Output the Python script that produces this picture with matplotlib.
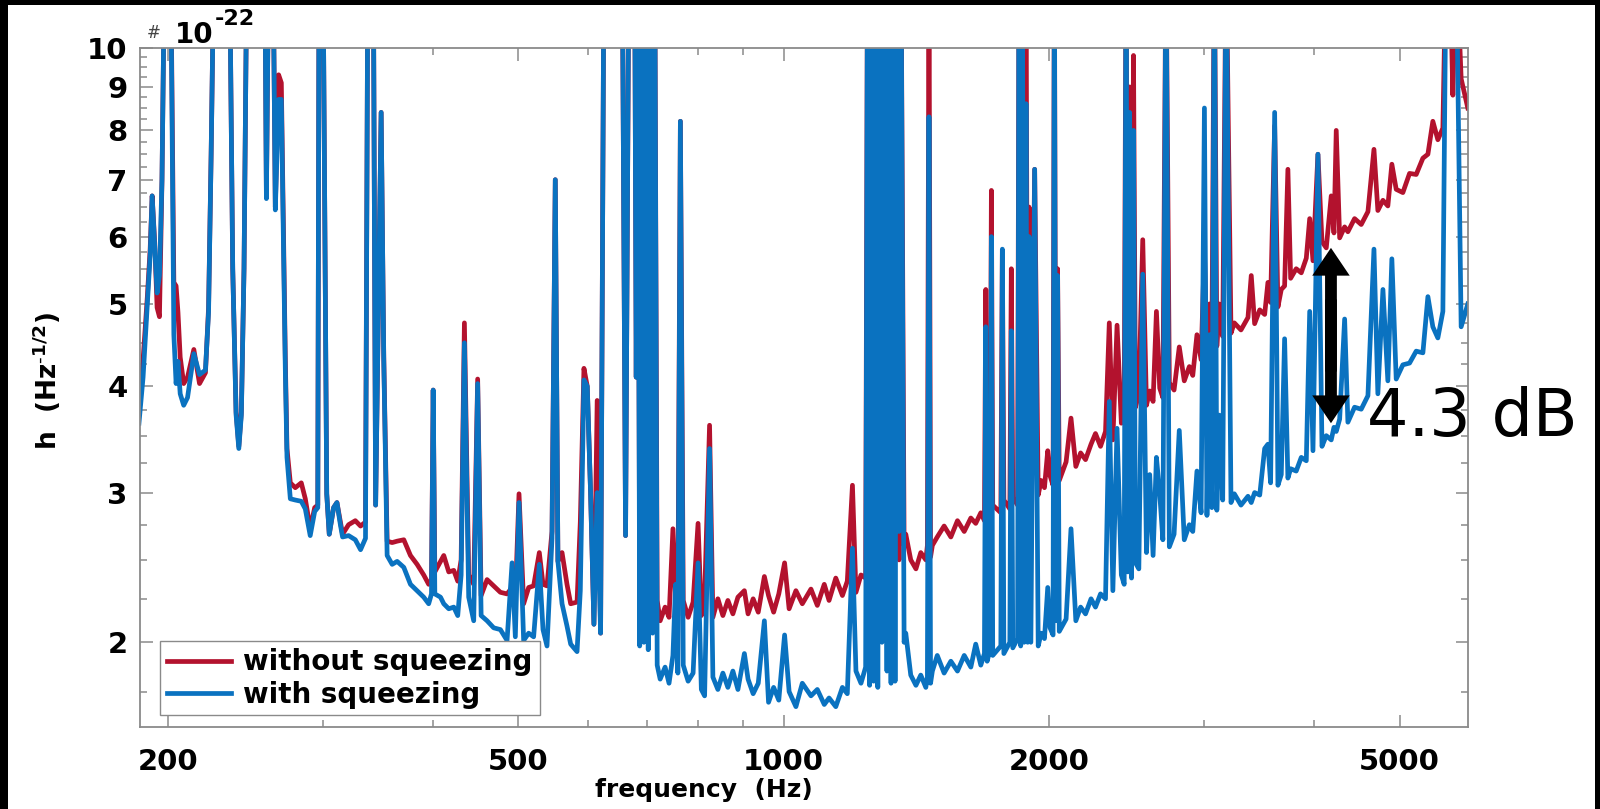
import matplotlib

matplotlib.use("Agg")
import matplotlib.pyplot as plt
from matplotlib.patches import FancyArrowPatch, Rectangle
from matplotlib.ticker import NullFormatter

# strain noise spectra, values in units of 1e-22 / sqrt(Hz)
FREQ_HZ = [
    185.5, 187.5, 189.6, 191.0, 192.0, 193.3, 194.5, 195.7, 197.0, 198.4,
    201.5, 203.2, 204.4, 205.4, 206.6, 208.5, 210.6, 214.1, 217.3, 220.7,
    222.5, 224.0, 225.7, 235.0, 237.0, 239.1, 240.8, 242.4, 244.1, 246.0,
    257.7, 258.8, 260.4, 263.3, 264.9, 267.2, 269.1, 271.9, 273.1, 275.5,
    279.1, 283.5, 286.5, 290.2, 293.6, 296.0, 297.0, 300.0, 303.0, 305.0,
    308.5, 311.2, 314.0, 315.8, 320.8, 326.5, 331.0, 335.3, 337.4, 342.2,
    344.3, 349.3, 351.7, 354.8, 359.5, 364.2, 370.6, 377.1, 383.7, 390.4,
    395.5, 398.4, 400.2, 401.9, 407.9, 411.4, 416.8, 422.3, 426.7, 430.5,
    434.2, 439.1, 444.9, 449.5, 453.6, 460.7, 468.7, 477.0, 485.4, 491.8,
    496.0, 500.8, 506.9, 513.6, 520.3, 528.1, 533.2, 538.8, 545.9, 550.6,
    554.4, 560.4, 567.7, 573.2, 582.8, 587.8, 593.4, 598.6, 603.8, 609.1,
    614.3, 619.8, 625.3, 633.5, 655.9, 661.6, 667.4, 677.5, 680.3, 683.0,
    686.5, 690.0, 694.0, 698.0, 702.0, 706.0, 710.0, 714.0, 718.6, 724.2,
    733.6, 741.2, 748.8, 754.0, 758.5, 763.5, 769.2, 779.1, 789.3, 799.6,
    806.5, 813.4, 824.0, 831.2, 842.1, 853.2, 864.4, 875.8, 887.4, 902.5,
    911.2, 923.4, 935.8, 950.9, 961.3, 974.2, 987.4, 1002.5, 1014.4, 1032.6,
    1050, 1074, 1092, 1112, 1126, 1146, 1166, 1181, 1197, 1208,
    1224, 1239, 1245, 1252, 1258, 1265, 1272, 1279, 1286, 1293,
    1300, 1310, 1317, 1324, 1331, 1338, 1345, 1352, 1359, 1370,
    1376, 1394, 1413, 1431, 1450, 1456, 1462, 1468, 1475, 1494,
    1521, 1548, 1575, 1603, 1631, 1652, 1674, 1690, 1696, 1702,
    1715, 1721, 1727, 1764, 1771, 1778, 1806, 1813, 1820, 1843,
    1850, 1858, 1866, 1875, 1884, 1892, 1899, 1908, 1927, 1945,
    1960, 1977, 1994, 2006, 2022, 2029, 2036, 2046, 2055, 2092,
    2119, 2146, 2173, 2201, 2233, 2259, 2289, 2319, 2342, 2364,
    2390, 2417, 2435, 2447, 2458, 2470, 2482, 2495, 2508, 2530,
    2556, 2581, 2603, 2626, 2649, 2672, 2694, 2716, 2740, 2774,
    2812, 2849, 2887, 2913, 2945, 2977, 3003, 3023, 3043, 3062,
    3082, 3102, 3122, 3150, 3178, 3219, 3247, 3304, 3365, 3394,
    3424, 3470, 3515, 3545, 3570, 3608, 3639, 3671, 3703, 3735,
    3762, 3817, 3868, 3919, 3954, 3988, 4040, 4083, 4129, 4183,
    4213, 4238, 4276, 4332, 4369, 4446, 4524, 4604, 4677, 4725,
    4788, 4850, 4901, 4957, 5044, 5133, 5223, 5315, 5385, 5455,
    5527, 5600, 5648, 5699, 5748, 5798, 5874, 5977,
]

H_NO_SQZ = [
    3.75, 4.3, 5.1, 5.8, 6.7, 5.9, 4.95, 4.83, 7.0, 13,
    13, 5.3, 5.25, 4.89, 4.33, 4.03, 4.1, 4.42, 4.03, 4.15,
    4.95, 7.5, 13, 13, 5.5, 3.73, 3.4, 3.73, 5.5, 13,
    13, 6.7, 13, 13, 6.5, 9.3, 9.1, 4.33, 3.38, 3.08,
    3.04, 3.08, 2.95, 2.72, 2.88, 2.9, 13, 13, 2.99, 2.68,
    2.88, 2.92, 2.77, 2.68, 2.75, 2.78, 2.74, 2.77, 13, 13,
    2.9, 8.4, 4.33, 2.63, 2.62, 2.63, 2.64, 2.53, 2.47, 2.4,
    2.34, 2.37, 3.96, 2.42, 2.49, 2.53, 2.42, 2.43, 2.36, 2.5,
    4.75, 2.4, 2.34, 4.08, 2.27, 2.37, 2.33, 2.29, 2.28, 2.32,
    2.25, 2.99, 2.22, 2.32, 2.33, 2.55, 2.34, 2.33, 2.7, 7.0,
    2.49, 2.55, 2.34, 2.22, 2.23, 2.77, 4.2, 4.0, 3.0, 2.1,
    3.85, 2.05, 13, 13, 13, 2.67, 13, 13, 4.1, 13,
    2.2, 13, 2.2, 13, 2.2, 13, 2.2, 13, 2.24, 2.12,
    2.2, 2.14, 2.72, 2.25, 2.15, 8.2, 2.24, 2.14, 2.23, 2.76,
    2.15, 2.26, 3.6, 2.14, 2.25, 2.15, 2.24, 2.16, 2.26, 2.3,
    2.16, 2.25, 2.17, 2.39, 2.27, 2.17, 2.28, 2.48, 2.19, 2.3,
    2.22, 2.31, 2.21, 2.34, 2.24, 2.38, 2.27, 2.36, 3.06, 2.29,
    2.4, 2.38, 13, 2.45, 13, 2.45, 13, 2.45, 13, 2.5,
    13, 2.5, 13, 2.5, 13, 2.5, 13, 2.5, 13, 2.6,
    2.68, 2.5, 2.44, 2.55, 2.5, 2.6, 13, 2.52, 2.6, 2.66,
    2.74, 2.66, 2.78, 2.7, 2.8, 2.76, 2.84, 2.78, 5.2, 2.86,
    2.8, 6.8, 2.9, 2.84, 5.78, 2.94, 2.87, 5.5, 2.96, 2.9,
    13, 2.95, 13, 2.96, 13, 2.98, 6.5, 3.0, 7.2, 2.98,
    3.1, 3.04, 3.36, 3.14, 3.06, 13, 3.16, 5.5, 3.1, 3.26,
    3.67, 3.22, 3.34, 3.28, 3.42, 3.52, 3.4, 3.54, 4.75, 3.46,
    4.72, 3.62, 3.72, 13, 3.64, 9.0, 3.8, 9.8, 3.78, 3.92,
    5.95, 3.8, 3.95, 3.84, 4.9, 3.98, 3.88, 13, 4.04, 3.96,
    4.45, 4.06, 4.22, 4.12, 4.6, 4.3, 5.8, 4.28, 5.0, 4.42,
    13, 4.46, 5.0, 4.58, 13, 4.62, 4.75, 4.66, 4.82, 5.4,
    4.74, 4.92, 4.86, 5.3, 5.02, 8.1, 4.96, 5.2, 5.25, 7.2,
    5.36, 5.5, 5.44, 5.66, 6.3, 5.62, 7.5, 5.92, 5.82, 6.7,
    6.06, 8.0, 5.98, 6.16, 6.08, 6.3, 6.2, 6.42, 7.6, 6.44,
    6.62, 6.52, 7.3, 6.82, 6.76, 7.12, 7.1, 7.42, 7.5, 8.2,
    7.8, 8.05, 13, 13, 8.8, 13, 9.2, 8.5,
]

H_SQZ = [
    3.62, 4.1, 5.0, 5.7, 6.7, 5.85, 5.15, 5.4, 7.0, 13,
    13, 4.6, 4.03, 4.28, 3.92, 3.8, 3.88, 4.37, 4.13, 4.18,
    4.89, 7.5, 13, 13, 5.5, 3.7, 3.38, 3.7, 5.5, 13,
    13, 6.65, 13, 13, 6.45, 8.7, 8.7, 4.2, 3.3, 2.95,
    2.94, 2.93, 2.87, 2.67, 2.85, 2.88, 13, 13, 2.99, 2.68,
    2.88, 2.92, 2.75, 2.66, 2.67, 2.64, 2.57, 2.65, 13, 13,
    2.9, 8.4, 4.3, 2.53, 2.47, 2.49, 2.45, 2.34, 2.3, 2.26,
    2.22, 2.28, 3.96, 2.28, 2.26, 2.22, 2.19, 2.2, 2.15, 2.4,
    4.5, 2.26, 2.12, 4.03, 2.15, 2.12, 2.08, 2.07, 2.01, 2.48,
    2.03, 2.92, 2.01, 2.05, 2.03, 2.47, 2.07, 1.98, 2.65, 7.0,
    2.49, 2.22, 2.09, 1.99, 1.95, 2.3, 4.07, 4.0, 3.0, 2.1,
    3.0, 2.05, 13, 13, 13, 2.67, 13, 13, 4.1, 13,
    1.98, 13, 2.0, 13, 1.96, 13, 2.05, 13, 1.88, 1.81,
    1.87, 1.79, 1.93, 2.34, 1.84, 8.2, 1.88, 1.8, 1.84, 2.48,
    1.76, 1.73, 3.38, 1.82, 1.76, 1.84, 1.77, 1.85, 1.76, 1.94,
    1.81, 1.74, 1.79, 2.12, 1.7, 1.77, 1.71, 2.04, 1.75, 1.68,
    1.79, 1.73, 1.76, 1.69, 1.72, 1.68, 1.77, 1.74, 2.58, 1.85,
    1.79, 1.87, 13, 1.78, 13, 1.8, 13, 1.77, 13, 2.0,
    13, 1.85, 13, 1.79, 13, 1.8, 13, 2.7, 13, 2.0,
    2.05, 1.83, 1.78, 1.83, 1.77, 1.82, 8.3, 1.79, 1.85, 1.93,
    1.84, 1.9, 1.85, 1.93, 1.87, 1.99, 1.88, 1.94, 4.7, 1.9,
    1.96, 6.0, 1.93, 1.98, 5.8, 1.94, 2.0, 4.65, 1.97, 2.02,
    13, 1.98, 13, 2.0, 8.6, 2.0, 6.0, 2.0, 7.2, 1.98,
    2.05, 2.02, 2.32, 2.08, 2.04, 13, 2.12, 5.4, 2.06, 2.13,
    2.72, 2.12, 2.2, 2.16, 2.25, 2.2, 2.28, 2.25, 3.84, 2.3,
    3.57, 2.4, 2.34, 13, 2.42, 8.4, 2.38, 8.0, 2.48, 2.44,
    5.42, 2.55, 3.15, 2.53, 3.3, 2.99, 2.64, 13, 2.59, 2.68,
    3.55, 2.64, 2.75, 2.7, 3.18, 2.84, 8.5, 2.82, 4.6, 2.88,
    13, 2.86, 3.7, 2.94, 13, 2.92, 2.99, 2.9, 2.97, 2.92,
    3.0, 2.98, 3.38, 3.42, 3.08, 8.4, 3.06, 3.15, 4.55, 3.12,
    3.2, 3.18, 3.3, 3.27, 4.9, 3.36, 7.5, 3.4, 3.5, 3.46,
    3.58, 3.54, 3.66, 4.8, 3.63, 3.78, 3.76, 3.9, 5.8, 3.92,
    5.2, 4.06, 5.65, 4.08, 4.24, 4.26, 4.4, 4.38, 5.1, 4.7,
    4.56, 4.9, 13, 13, 13, 13, 4.7, 5.0,
]

X_TICKS = [200, 500, 1000, 2000, 5000]
X_MINOR = [300, 400, 600, 700, 800, 900, 3000, 4000]
Y_TICKS = [2, 3, 4, 5, 6, 7, 8, 9, 10]
Y_MINOR = [1.75, 2.25, 2.5, 2.75, 3.25, 3.5, 3.75, 4.25, 4.5, 4.75,
           5.25, 5.5, 5.75, 6.25, 6.5, 6.75, 7.25, 7.5, 7.75,
           8.25, 8.5, 8.75, 9.25, 9.5, 9.75]

# double arrow marking the squeezing gain
ARROW_FREQ = 4180
ARROW_TOP = 5.82
ARROW_BOTTOM = 3.62
GAIN_LABEL = "4.3 dB"

RED = "#B3122E"
BLUE = "#0A72C0"
GRAY = "#8A8A8A"
W, H = 1600, 809

plt.rcParams["font.family"] = "DejaVu Sans"
plt.rcParams["mathtext.fontset"] = "dejavusans"

fig = plt.figure(figsize=(16, 8.09), dpi=100)
ax = fig.add_axes([140 / W, 82 / H, 1328 / W, 679 / H])

ax.plot(FREQ_HZ, H_NO_SQZ, color=RED, lw=3.4, label="without squeezing")
ax.plot(FREQ_HZ, H_SQZ, color=BLUE, lw=3.4, label="with squeezing")

ax.set_xscale("log")
ax.set_yscale("log")
ax.set_xlim(186, 5980)
ax.set_ylim(1.59, 10)

ax.set_xticks(X_TICKS, labels=[str(t) for t in X_TICKS])
ax.set_xticks(X_MINOR, minor=True)
ax.set_yticks(Y_TICKS, labels=[str(t) for t in Y_TICKS])
ax.set_yticks(Y_MINOR, minor=True)
ax.xaxis.set_minor_formatter(NullFormatter())
ax.yaxis.set_minor_formatter(NullFormatter())

for sp in ax.spines.values():
    sp.set_color(GRAY)
    sp.set_linewidth(1.3)
ax.tick_params(which="both", direction="in", top=True, right=True,
               color=GRAY, width=1.1, labelsize=21)
ax.tick_params(which="major", length=9)
ax.tick_params(which="minor", length=5)
ax.tick_params(axis="x", pad=15)
ax.tick_params(axis="y", pad=9)
for lab in ax.get_xticklabels() + ax.get_yticklabels():
    lab.set_fontweight("bold")

ax.set_ylabel(r"h  (Hz$^{\mathbf{\text{-}1/2}}$)", fontsize=19, fontweight="bold")
ax.yaxis.set_label_coords(-0.058, 0.51)
fig.text(704 / W, 1 - 790 / H, "frequency  (Hz)", fontsize=18,
         fontweight="bold", ha="center", va="center")

# exponent marker top-left
fig.text(147 / W, 1 - 33 / H, "#", fontsize=12, color="#444444",
         ha="left", va="center")
fig.text(175 / W, 1 - 35 / H, "10", fontsize=20, fontweight="bold",
         ha="left", va="center")
fig.text(215 / W, 1 - 19 / H, "-22", fontsize=16, fontweight="bold",
         ha="left", va="center")

leg = ax.legend(loc="lower left", bbox_to_anchor=(0.015, 0.017),
                prop={"weight": "bold", "size": 20}, fancybox=False,
                edgecolor=GRAY, framealpha=1, handlelength=2.3,
                borderpad=0.25, labelspacing=0.15, handletextpad=0.45,
                borderaxespad=0)
leg.get_frame().set_linewidth(1.0)

arrow_style = "simple,head_length=2.0,head_width=2.7,tail_width=0.85"
for start, end in ((ARROW_BOTTOM * 1.15, ARROW_TOP), (ARROW_TOP / 1.15, ARROW_BOTTOM)):
    ax.add_patch(FancyArrowPatch((ARROW_FREQ, start), (ARROW_FREQ, end),
                                 arrowstyle=arrow_style, mutation_scale=10,
                                 color="black", lw=0, shrinkA=0, shrinkB=0,
                                 zorder=5))
ax.text(0.9239, 0.455, GAIN_LABEL, transform=ax.transAxes, fontsize=47,
        ha="left", va="center", color="black", zorder=6)

# black frame edges of the slide
for rect in [(0, 0, 8 / W, 1), (0, 1 - 5 / H, 1, 5 / H), (1 - 5 / W, 0, 5 / W, 1)]:
    fig.add_artist(Rectangle(rect[:2], rect[2], rect[3], transform=fig.transFigure,
                             color="black", lw=0))

fig.savefig("out.png", dpi=100)
